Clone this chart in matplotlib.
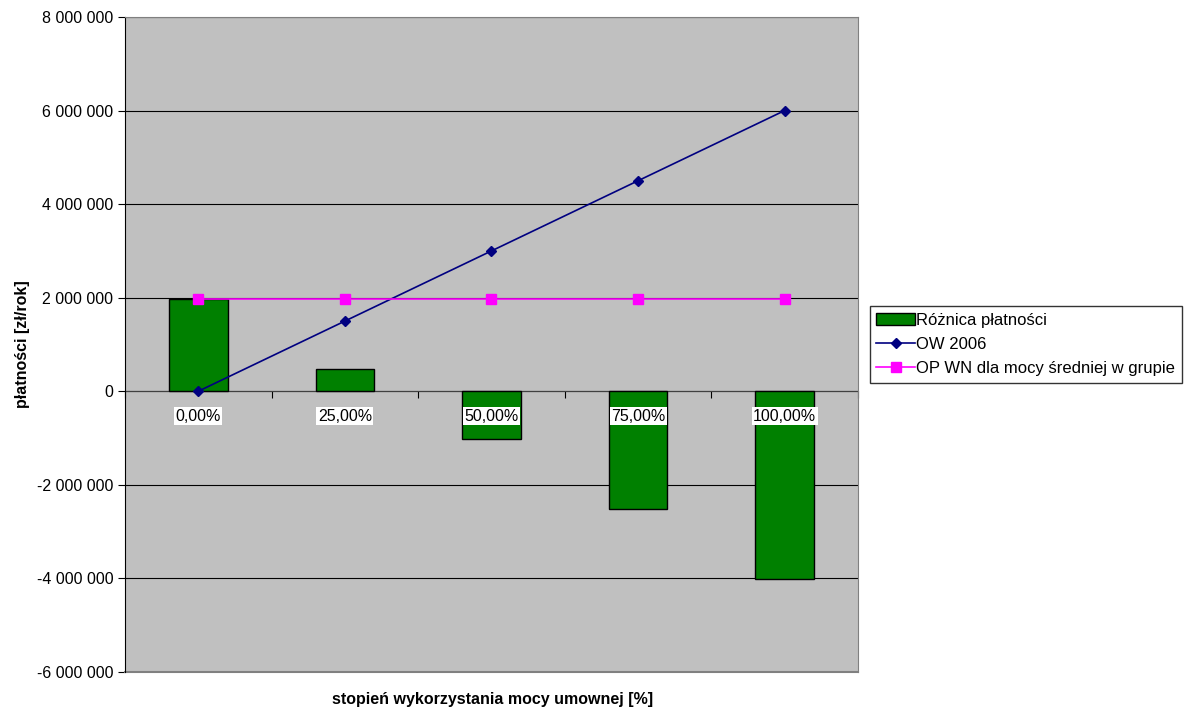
import matplotlib.pyplot as plt
import numpy as np

plt.rcParams['font.family'] = ['Liberation Sans', 'DejaVu Sans']

# data
categories = ['0,00%', '25,00%', '50,00%', '75,00%', '100,00%']
roznica = [1980000, 480000, -1020000, -2520000, -4020000]
ow_2006 = [0, 1500000, 3000000, 4500000, 6000000]
op_wn = [1980000, 1980000, 1980000, 1980000, 1980000]

fig = plt.figure(figsize=(11.89, 7.13), dpi=100)
ax = fig.add_axes([0.1051, 0.0575, 0.6165, 0.9187])
ax.set_facecolor('#C0C0C0')

x = np.arange(len(categories))
b = ax.bar(x, roznica, width=0.4, color='#008000', edgecolor='black', linewidth=1,
           label='Różnica płatności', zorder=3)
l1, = ax.plot(x, ow_2006, color='#000080', marker='D', markersize=5, linewidth=1.2,
              label='OW 2006', zorder=4)
l2, = ax.plot(x, op_wn, color='#FF00FF', marker='s', markersize=7, linewidth=1.2,
              label='OP WN dla mocy średniej w grupie', zorder=4)

ax.set_xlim(-0.5, len(categories) - 0.5)
ax.set_ylim(-6000000, 8000000)
ax.set_yticks(np.arange(-6000000, 8000001, 2000000))
ax.yaxis.set_major_formatter(plt.FuncFormatter(lambda v, p: f'{int(v):,}'.replace(',', ' ')))
ax.grid(axis='y', color='black', linewidth=0.8, zorder=1)
ax.tick_params(axis='y', labelsize=11.5, length=5, direction='out')

# category axis sits on zero
ax.spines['bottom'].set_position(('data', 0))
ax.spines['bottom'].set_color('#404040')
ax.spines['bottom'].set_zorder(2)
ax.spines['top'].set_color('#808080')
ax.spines['right'].set_color('#808080')
ax.spines['left'].set_color('black')
ax.axhline(-6000000, color='#808080', linewidth=1.5, clip_on=False, zorder=2)
ax.set_xticks(np.arange(-0.5, len(categories), 1.0))
ax.set_xticklabels([])
ax.tick_params(axis='x', length=5, direction='out', color='black')
for xi, cat in zip(x, categories):
    ax.annotate(cat, (xi, 0), xytext=(0, -18), textcoords='offset points',
                ha='center', va='center', fontsize=11.5, zorder=6,
                bbox=dict(facecolor='white', edgecolor='none', pad=1))

ax.set_ylabel('płatności [zł/rok]', fontsize=11.5, fontweight='bold', labelpad=5)
fig.text(0.414, 0.012, 'stopień wykorzystania mocy umownej [%]', fontsize=11.5,
         fontweight='bold', ha='center')

leg = ax.legend([b, l1, l2], [b.get_label(), l1.get_label(), l2.get_label()],
                loc='center left', bbox_to_anchor=(1.016, 0.5), fontsize=12,
                frameon=True, fancybox=False, edgecolor='black', borderpad=0.4,
                handlelength=2.3, labelspacing=0.55, handletextpad=0.1, borderaxespad=0)
leg.get_frame().set_linewidth(1)

plt.savefig('out.png', dpi=100)
